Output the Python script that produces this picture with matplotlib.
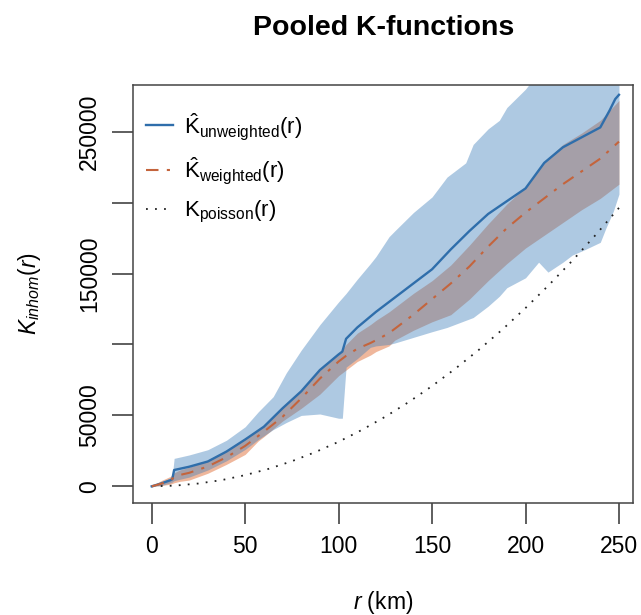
import numpy as np
from matplotlib import pyplot as plt
from matplotlib.lines import Line2D

plt.rcParams['font.family'] = ['Liberation Sans', 'DejaVu Sans']
plt.rcParams['mathtext.fontset'] = 'custom'
plt.rcParams['mathtext.rm'] = 'Liberation Sans'
plt.rcParams['mathtext.it'] = 'Liberation Sans:italic'

# unweighted estimate (blue)
r_unw = [0, 5, 10, 11, 12, 20, 30, 40, 50, 60, 70, 80, 90, 100, 102, 104, 110, 120,
         130, 140, 150, 160, 170, 180, 190, 200, 210, 220, 230, 240, 245, 248, 250]
k_unw = [0, 2000, 4300, 5000, 11500, 13800, 17500, 24500, 33000, 42000, 55000, 67000,
         82000, 93000, 95000, 104000, 112000, 123000, 133000, 143000, 153000, 167000,
         180000, 192000, 201000, 210000, 228000, 239000, 246000, 253000, 265000, 273000, 276000]

# unweighted envelope
r_unw_band = [0, 5, 10, 11, 12, 20, 30, 40, 50, 57, 65, 72, 80, 90, 100, 102, 104, 110,
              117, 120, 127, 130, 140, 150, 158, 168, 172, 180, 186, 190, 200, 207, 212,
              220, 225, 232, 240, 243, 247, 250]
unw_hi = [0, 3000, 6000, 7000, 19700, 22100, 25800, 32500, 42000, 52500, 63200, 80000,
          96000, 114000, 130000, 133000, 136000, 146000, 157000, 162000, 176000, 180000,
          193000, 204000, 218000, 228000, 241000, 252000, 258000, 267000, 280000, 292000,
          300000, 310000, 316000, 324000, 333000, 337000, 341000, 345000]
unw_lo = [0, 500, 2500, 3000, 4000, 6500, 11500, 18000, 26000, 33000, 40000, 45000,
          50000, 51000, 48000, 48000, 84000, 90000, 98000, 99000, 100000, 101000, 105000,
          109000, 112000, 117000, 119000, 127000, 134000, 140000, 147000, 158000, 151000,
          158000, 163000, 167000, 172000, 182000, 194000, 206000]

# weighted estimate (orange)
r_wt = [0, 5, 10, 12, 15, 20, 30, 40, 50, 57, 60, 70, 80, 90, 100, 104, 110, 117, 120,
        127, 130, 140, 150, 160, 170, 180, 190, 200, 210, 220, 230, 240, 250]
k_wt = [0, 1800, 4000, 6500, 8000, 9500, 14000, 20500, 28500, 35500, 38500, 49000, 62000,
        76000, 88000, 92000, 97000, 101000, 103000, 108000, 111000, 121000, 132000, 143000,
        155000, 169000, 182000, 193000, 203000, 213000, 222000, 231000, 243000]
wt_hi = [0, 4000, 7000, 9500, 11500, 13500, 18500, 25500, 34000, 40500, 43000, 56000,
         68000, 82000, 93000, 100000, 108000, 114000, 117000, 123000, 126000, 136000,
         145000, 156000, 170000, 185000, 199000, 211000, 229000, 241000, 249000, 258000, 272000]
wt_lo = [0, 500, 1500, 2500, 3500, 4400, 9200, 15500, 22500, 32000, 35000, 46000, 55000,
         65000, 78000, 82000, 88000, 92500, 95000, 99000, 103000, 110000, 116000, 121000,
         132000, 145000, 157000, 168000, 177000, 186000, 195000, 203000, 213000]

# poisson reference
r_pois = [0, 12.5, 25, 37.5, 50, 62.5, 75, 87.5, 100, 112.5, 125, 137.5, 150, 162.5,
          175, 187.5, 200, 212.5, 225, 237.5, 250]
k_pois = [0, 500, 2000, 4400, 7900, 12300, 17700, 24100, 31400, 39800, 49100, 59400,
          70700, 83000, 96200, 110400, 125700, 141900, 159000, 177200, 196300]

BLUE_LINE = '#2f6eab'
ORANGE_LINE = '#c4643c'
DASHDOT = (0, (6, 4, 1.5, 4))
DOTS = (0, (1, 4))

fig = plt.figure(figsize=(6.41, 6.15), dpi=100)
ax = fig.add_axes([0.2075, 0.182, 0.78, 0.68])

# orange band underneath, blue band drawn over it -> greyish overlap
ax.fill_between(r_wt, wt_lo, wt_hi, color='#e0703a', alpha=0.5, lw=0)
ax.fill_between(r_unw_band, unw_lo, unw_hi, color='#3f7fba', alpha=0.42, lw=0)

ax.plot(r_pois, k_pois, color='#222222', lw=1.3, linestyle=DOTS)
ax.plot(r_unw, k_unw, color=BLUE_LINE, lw=1.7)
ax.plot(r_wt, k_wt, color=ORANGE_LINE, lw=1.5, linestyle=DASHDOT)

ax.set_xlim(-10, 257.5)
ax.set_ylim(-11800, 283000)
ax.set_xticks([0, 50, 100, 150, 200, 250])
ax.set_yticks([0, 50000, 100000, 150000, 200000, 250000])
ax.set_yticklabels(['0', '50000', '', '150000', '', '250000'])
for lbl in ax.get_yticklabels():
    lbl.set_rotation(90)
    lbl.set_va('center')
ax.tick_params(length=15, width=1.1, labelsize=16.5, pad=8, color='#333333')
for s in ax.spines.values():
    s.set_color('#444444')
    s.set_linewidth(1.1)

ax.set_xlabel(r'$r$ (km)', fontsize=16.5, labelpad=22)
ax.set_ylabel(r'$K_{inhom}(r)$', fontsize=16.5, labelpad=25)
fig.suptitle('Pooled K-functions', fontsize=20.5, fontweight='bold', x=0.598, y=0.975)

handles = [
    Line2D([], [], color=BLUE_LINE, lw=1.7),
    Line2D([], [], color=ORANGE_LINE, lw=1.5, linestyle=DASHDOT),
    Line2D([], [], color='#222222', lw=1.3, linestyle=DOTS),
]
labels = [
    r'$\hat{\mathrm{K}}_{\mathrm{unweighted}}\mathrm{(r)}$',
    r'$\hat{\mathrm{K}}_{\mathrm{weighted}}\mathrm{(r)}$',
    r'$\mathrm{K}_{\mathrm{poisson}}\mathrm{(r)}$',
]
ax.legend(handles, labels, loc='upper left', frameon=False, fontsize=16,
          handlelength=1.2, handletextpad=0.5, labelspacing=0.6,
          bbox_to_anchor=(-0.005, 0.975), borderaxespad=0.3)

plt.savefig('out.png', dpi=100)
plt.close()
